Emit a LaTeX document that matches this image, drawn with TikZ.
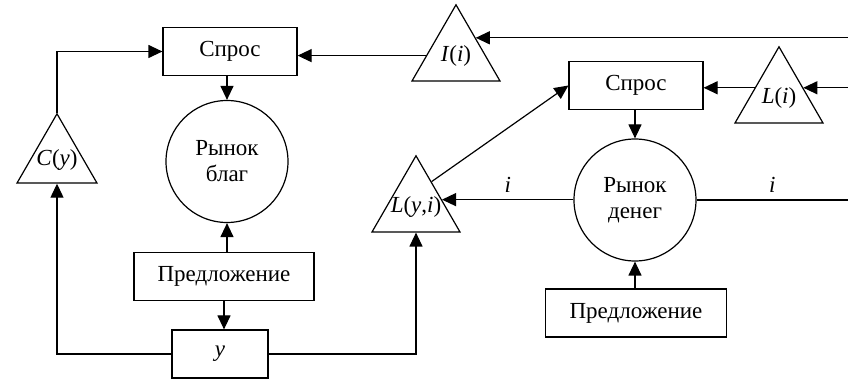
\documentclass[tikz,border=0pt]{standalone}
\usepackage{fontspec}
\setmainfont{Liberation Serif}
\usetikzlibrary{arrows.meta,shapes.geometric}

\begin{document}
\begin{tikzpicture}[x=0.5pt, y=-0.5pt, >={Triangle[length=7pt,width=6.5pt]}, line width=0.6pt,
		font=\fontsize{11.5}{13}\selectfont,
		box/.style={draw, rectangle, minimum width=#1, minimum height=24pt, inner sep=0pt},
		market/.style={draw, circle, minimum size=61pt, inner sep=0pt, align=center},
		tri/.style={draw, regular polygon, regular polygon sides=3, inner sep=0pt, minimum size=#1}]
		\useasboundingbox (0,0) rectangle (848,379);
		% goods market
		\node[box=67pt] (SL) at (230,51.5) {Спрос};
		\node[market] (RB) at (227,161.5) {Рынок\\благ};
		\node[box=90pt] (PB) at (224,276.5) {Предложение};
		\node[box=48pt] (Y) at (220,354) {\textit{y}};
		\node[tri=46.2pt, label=center:{\textit{C}(\textit{y})}] (C) at (57,160) {};
		\node[tri=50.8pt, label=center:{\textit{I}(\textit{i})}] (I) at (456,55.6) {};
		% money market
		\node[box=67pt] (SR) at (636,85.5) {Спрос};
		\node[market] (RD) at (635,200) {Рынок\\денег};
		\node[box=90.5pt] (PR) at (636,313) {Предложение};
		\node[tri=50.8pt, label=center:{\textit{L}(\textit{i})}] (Li) at (779,97.6) {};
		\node[tri=50.8pt, label=center:{\textit{L}(\textit{y},\textit{i})}] (Lyi) at (416,206.6) {};
		\coordinate (rim) at (848,0);
		% connectors
		\draw[->] (C.corner 1) |- (SL.west);
		\draw[->] (Y.west) -| (C.side 2);
		\draw[->] (I.west) -- (I.west -| SL.east);
		\draw[->] (I.42 -| rim) -- (I.42);
		\draw[->] (RB.north |- SL.south) -- (RB.north);
		\draw[->] (RB.south |- PB.north) -- (RB.south);
		\draw[->] (PB.south) -- (PB.south |- Y.north);
		\draw[->] (Y.east) -| (Lyi.side 2);
		\draw[->] (Lyi.58) -- (SR.west);
		\draw[->] (Lyi.15 -| RD.west) -- (Lyi.15) node[midway, above] {\textit{i}};
		\draw (RD.east) -- (RD.east -| rim) node[midway, above] {\textit{i}};
		\draw[->] (RD.north |- SR.south) -- (RD.north);
		\draw[->] (RD.south |- PR.north) -- (RD.south);
		\draw[->] (Li.158) -- (Li.158 -| SR.east);
		\draw[->] (Li.22 -| rim) -- (Li.22);
	\end{tikzpicture}
\end{document}
